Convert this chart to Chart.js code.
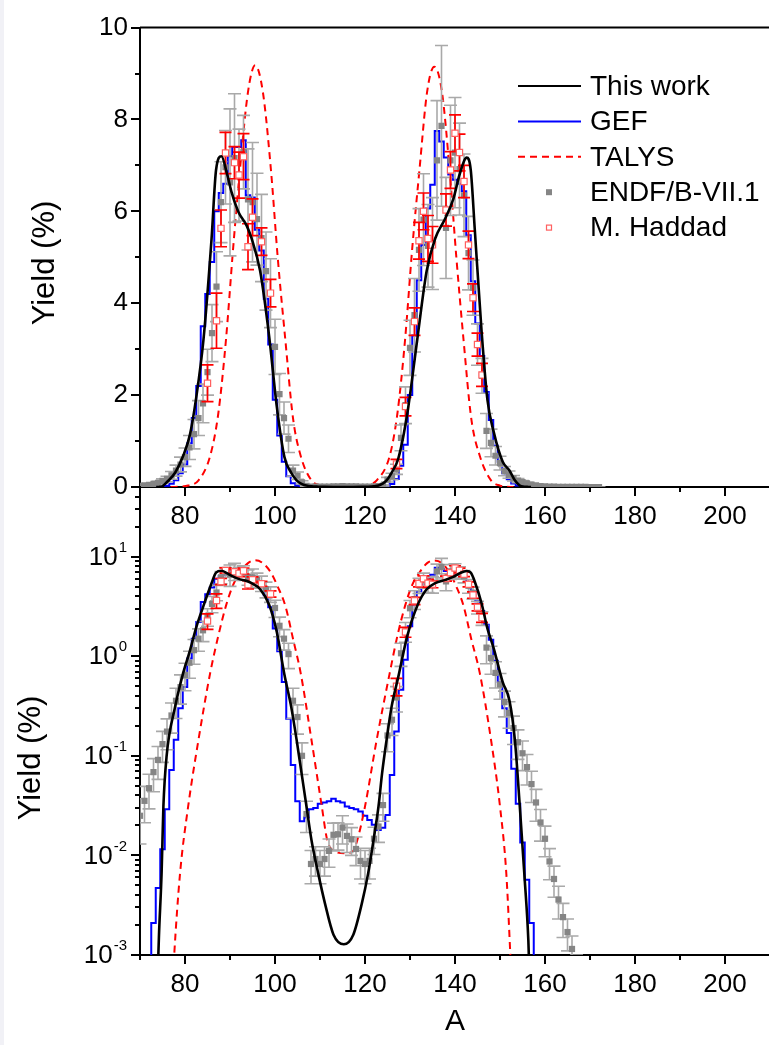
<!DOCTYPE html>
<html><head><meta charset="utf-8">
<script src="https://cdn.jsdelivr.net/npm/chart.js@4.4.1/dist/chart.umd.min.js"></script>
<style>
html,body{margin:0;padding:0;background:#fff;overflow:hidden;width:769px;height:1045px;}
canvas{position:absolute;left:0;top:0;}
#edge{position:absolute;left:0;top:0;width:4px;height:1045px;background:#f1f1f6;}
</style></head><body>
<div id="edge"></div>
<canvas id="cTop" width="784" height="1045"></canvas>
<canvas id="cBot" width="784" height="1045"></canvas>
<script>
// ---------------- data ----------------
const xTickLabels = [80, 100, 120, 140, 160, 180, 200];
const xMinorTicks = [70, 90, 110, 130, 150, 170, 190, 210];
const yLinLabels = [0, 2, 4, 6, 8, 10];
const yLogExponents = [-3, -2, -1, 0, 1];
const yTitle = 'Yield (%)';
const xTitle = 'A';

// This work (smooth curve)
const twA = [73.6, 74.2, 74.8, 75.2, 75.9, 77.8, 79.6, 81.1, 82.5, 84.1, 85.9, 86.9, 88.1, 89.3, 90.4, 91.9, 93.7, 94.8, 96.7, 98.7, 100.4, 102.1, 103.6, 104.8, 105.9, 107.0, 108.1, 109.6, 111.1, 113.0, 115.3, 117.4, 119.3, 120.7, 121.9, 123.0, 123.8, 124.8, 125.9, 127.4, 129.4, 131.6, 133.7, 135.6, 137.8, 139.6, 141.1, 142.6, 143.5, 144.4, 145.9, 147.2, 148.6, 150.6, 152.1, 153.3, 154.4, 155.4, 156.3, 156.9];
const twY = [0.0002, 0.0015, 0.0067, 0.031, 0.098, 0.31, 0.68, 1.14, 1.95, 3.2, 5.4, 6.9, 7.2, 6.83, 6.40, 5.98, 5.69, 5.41, 4.70, 3.28, 1.75, 0.65, 0.31, 0.145, 0.067, 0.031, 0.0143, 0.0066, 0.0033, 0.0016, 0.00128, 0.0016, 0.0033, 0.0066, 0.0143, 0.031, 0.067, 0.145, 0.31, 0.62, 1.6, 3.2, 4.7, 5.41, 5.84, 6.26, 6.83, 7.17, 6.9, 5.6, 3.4, 1.9, 1.2, 0.55, 0.36, 0.145, 0.031, 0.0066, 0.0014, 0.0002];

// GEF (histogram, bin centres)
const gefA = [72, 73, 74, 75, 76, 77, 78, 79, 80, 81, 82, 83, 84, 85, 86, 87, 88, 89, 90, 91, 92, 93, 94, 95, 96, 97, 98, 99, 100, 101, 102, 103, 104, 105, 106, 107, 108, 109, 110, 111, 112, 113, 114, 115, 116, 117, 118, 119, 120, 121, 122, 123, 124, 125, 126, 127, 128, 129, 130, 131, 132, 133, 134, 135, 136, 137, 138, 139, 140, 141, 142, 143, 144, 145, 146, 147, 148, 149, 150, 151, 152, 153, 154, 155, 156, 157, 158];
const gefY = [0.00001, 0.0021, 0.0047, 0.0115, 0.029, 0.072, 0.145, 0.30, 0.49, 0.95, 1.5, 2.2, 3.5, 4.2, 4.9, 6.0, 6.4, 6.6, 7.2, 7.4, 7.4, 7.55, 6.35, 6.3, 5.6, 5.15, 4.1, 3.1, 1.9, 1.12, 0.55, 0.235, 0.081, 0.035, 0.022, 0.024, 0.029, 0.030, 0.033, 0.034, 0.035, 0.037, 0.035, 0.034, 0.031, 0.030, 0.029, 0.0276, 0.025, 0.0227, 0.0203, 0.018, 0.019, 0.0255, 0.064, 0.175, 0.46, 0.92, 2.0, 3.3, 4.5, 5.27, 6.06, 6.58, 7.75, 7.52, 7.17, 6.8, 6.69, 6.6, 6.44, 5.48, 4.48, 3.56, 2.85, 2.07, 1.46, 0.9, 0.55, 0.30, 0.169, 0.074, 0.033, 0.0135, 0.0057, 0.0021, 0.00001];

// TALYS
const talA = [76.8, 77.6, 78.9, 80.7, 83.0, 85.6, 87.4, 89.1, 90.7, 92.2, 94.0, 95.6, 97.3, 99.1, 100.6, 102.3, 104.0, 105.7, 108.1, 110.4, 111.6, 113.2, 115.5, 117.3, 118.3, 120.0, 122.6, 125.5, 127.2, 128.9, 130.5, 132.1, 133.8, 135.4, 137.1, 138.8, 140.3, 141.9, 143.6, 145.5, 148.0, 150.0, 151.4, 152.3, 153.0];
const talY = [0.0002, 0.001, 0.0066, 0.031, 0.145, 0.68, 1.6, 3.2, 5.2, 6.9, 8.6, 9.18, 8.6, 6.9, 5.0, 3.2, 1.5, 0.68, 0.145, 0.031, 0.0143, 0.011, 0.0105, 0.011, 0.0143, 0.031, 0.145, 0.68, 1.6, 3.2, 5.2, 6.9, 8.6, 9.15, 8.6, 6.9, 5.0, 3.2, 1.5, 0.68, 0.145, 0.031, 0.0066, 0.001, 0.0002];

// ENDF/B-VII.1
const endfA = [70, 71, 72, 73, 74, 75, 76, 77, 78, 79, 80, 81, 82, 83, 84, 85, 86, 87, 88, 89, 90, 91, 92, 93, 94, 95, 96, 97, 98, 99, 100, 101, 102, 103, 104, 105, 106, 107, 108, 109, 110, 111, 112, 113, 114, 115, 116, 117, 118, 119, 120, 121, 122, 123, 124, 125, 126, 127, 128, 129, 130, 131, 132, 133, 134, 135, 136, 137, 138, 139, 140, 141, 142, 143, 144, 145, 146, 147, 148, 149, 150, 151, 152, 153, 154, 155, 156, 157, 158, 159, 160, 161, 162, 163, 164, 165, 166, 167, 168, 169, 170, 171, 172];
const endfY = [0.025, 0.0353, 0.0473, 0.0686, 0.091, 0.131, 0.175, 0.254, 0.357, 0.49, 0.65, 0.86, 1.15, 1.5, 1.82, 2.5, 3.35, 4.36, 6.2, 6.96, 6.63, 7.16, 6.79, 7.29, 6.26, 6.2, 5.83, 5.42, 4.7, 4.22, 3.05, 2.02, 1.5, 1.05, 0.357, 0.245, 0.1, 0.026, 0.0082, 0.0092, 0.0082, 0.0092, 0.0111, 0.0161, 0.0163, 0.019, 0.0157, 0.0145, 0.0116, 0.0088, 0.0082, 0.0088, 0.0147, 0.0195, 0.032, 0.16, 0.23, 0.385, 1.07, 1.78, 3.03, 3.74, 5.16, 5.82, 5.25, 5.3, 7.11, 7.86, 5.64, 7.11, 7.28, 6.92, 6.35, 5.09, 4.34, 3.1, 2.42, 1.22, 0.96, 0.68, 0.52, 0.346, 0.269, 0.19, 0.137, 0.106, 0.077, 0.052, 0.034, 0.0214, 0.0147, 0.0087, 0.0058, 0.0036, 0.0024, 0.0017, 0.00115, 0.0007, 0.0005, 0.0003, 0.0002, 0.0001, 0.00007];
const endfErr = [0.012, 0.014, 0.018, 0.025, 0.033, 0.045, 0.06, 0.085, 0.12, 0.16, 0.2, 0.26, 0.32, 0.38, 0.42, 0.5, 0.62, 0.76, 0.88, 0.8, 1.6, 1.4, 1.0, 0.8, 1.1, 1.3, 1.0, 0.95, 0.85, 0.75, 0.6, 0.45, 0.35, 0.3, 0.12, 0.08, 0.035, 0.009, 0.003, 0.003, 0.003, 0.003, 0.0035, 0.005, 0.005, 0.006, 0.005, 0.0045, 0.0037, 0.003, 0.003, 0.003, 0.0045, 0.006, 0.01, 0.05, 0.07, 0.11, 0.28, 0.4, 0.6, 0.8, 0.9, 1.0, 0.9, 1.0, 1.3, 1.75, 1.1, 1.2, 1.2, 1.0, 0.9, 0.8, 0.6, 0.45, 0.38, 0.38, 0.3, 0.2, 0.15, 0.1, 0.08, 0.06, 0.045, 0.035, 0.026, 0.018, 0.012, 0.0075, 0.005, 0.003, 0.002, 0.0013, 0.0009, 0.0006, 0.0004, 0.0003, 0.0002, 0.0001, 0.00007, 0.00004, 0.00003];

// M. Haddad
const hdA = [85, 87, 88, 89, 91, 92, 93, 94, 95, 97, 99, 127, 129, 131, 132, 133, 134, 135, 138, 139, 140, 141, 142, 143, 144, 145, 146];
const hdY = [2.26, 3.62, 5.63, 7.27, 7.06, 6.79, 7.19, 5.23, 5.87, 5.34, 4.22, 0.5, 1.75, 3.6, 5.36, 6.0, 5.41, 5.27, 6.03, 6.9, 7.7, 7.28, 6.65, 5.27, 4.12, 3.1, 2.44];
const hdErr = [0.4, 0.6, 0.4, 0.45, 0.35, 0.5, 0.5, 0.5, 0.4, 0.3, 0.3, 0.1, 0.2, 0.3, 0.4, 0.4, 0.5, 0.4, 0.35, 0.4, 0.4, 0.4, 0.35, 0.3, 0.3, 0.25, 0.25];

// ---------------- drawing ----------------
const FONT = '"Liberation Sans", Arial, Helvetica, sans-serif';
Chart.defaults.font.family = FONT;
Chart.defaults.color = '#000';

const pts = (xs, ys) => xs.map((x, i) => ({x, y: ys[i]}));

function datasets() {
  return [
    {label: 'This work', data: pts(twA, twY), showLine: true, borderColor: '#000', borderWidth: 2.6,
     pointRadius: 0, cubicInterpolationMode: 'monotone'},
    {label: 'M. Haddad', data: pts(hdA, hdY), showLine: false, pointStyle: 'rect', pointRadius: 4.4,
     borderColor: '#ff6060', backgroundColor: '#ffffff', borderWidth: 1.2,
     errors: hdErr, errColor: '#ff0000', errWidth: 1.7, capHalf: 6},
    {label: 'ENDF/B-VII.1', data: pts(endfA, endfY), showLine: false, pointStyle: 'rect', pointRadius: 4.4,
     borderColor: '#858585', backgroundColor: '#858585', borderWidth: 0,
     errors: endfErr, errColor: '#a9a9a9', errWidth: 1.6, capHalf: 6.5},
    {label: 'TALYS', data: pts(talA, talY), showLine: true, borderColor: '#ff0000', borderWidth: 2,
     borderDash: [7, 5], pointRadius: 0, cubicInterpolationMode: 'monotone'},
    {label: 'GEF', data: pts(gefA, gefY), showLine: true, stepped: 'middle', borderColor: '#0000ff',
     borderWidth: 2, pointRadius: 0}
  ];
}

const errorBars = {
  id: 'errorBars',
  beforeDatasetDraw(chart, args) {
    const ds = chart.data.datasets[args.index];
    if (!ds.errors) return;
    const {ctx, chartArea: a, scales: {x, y}} = chart;
    const isLog = y.type === 'logarithmic';
    ctx.save();
    ctx.beginPath(); ctx.rect(a.left, a.top, a.right - a.left, a.bottom - a.top); ctx.clip();
    ctx.strokeStyle = ds.errColor; ctx.lineWidth = ds.errWidth;
    ctx.beginPath();
    ds.data.forEach((p, i) => {
      const e = ds.errors[i];
      const px = x.getPixelForValue(p.x);
      const top = y.getPixelForValue(p.y + e);
      const lowV = p.y - e;
      const bot = (isLog && lowV <= 0) ? a.bottom + 20 : y.getPixelForValue(lowV);
      ctx.moveTo(px, top); ctx.lineTo(px, bot);
      ctx.moveTo(px - ds.capHalf, top); ctx.lineTo(px + ds.capHalf, top);
      ctx.moveTo(px - ds.capHalf, bot); ctx.lineTo(px + ds.capHalf, bot);
    });
    ctx.stroke();
    ctx.restore();
  }
};

function drawYTitle(ctx, cx, cy) {
  ctx.save();
  ctx.translate(cx, cy); ctx.rotate(-Math.PI / 2);
  ctx.font = '31px ' + FONT; ctx.textAlign = 'center'; ctx.textBaseline = 'middle';
  ctx.fillStyle = '#000';
  ctx.fillText(yTitle, 0, 0);
  ctx.restore();
}

const axesDeco = {
  id: 'axesDeco',
  afterDraw(chart) {
    const {ctx, chartArea: a, scales: {x, y}} = chart;
    const isLog = y.type === 'logarithmic';
    ctx.save();
    ctx.strokeStyle = '#000'; ctx.lineWidth = 2;
    ctx.beginPath();
    xTickLabels.forEach(v => { const p = Math.round(x.getPixelForValue(v)); ctx.moveTo(p, a.bottom); ctx.lineTo(p, a.bottom + 9); });
    xMinorTicks.forEach(v => { const p = Math.round(x.getPixelForValue(v)); ctx.moveTo(p, a.bottom); ctx.lineTo(p, a.bottom + 5); });
    if (isLog) {
      yLogExponents.forEach(ex => {
        const d = Math.pow(10, ex);
        const p = Math.round(y.getPixelForValue(d));
        ctx.moveTo(a.left, p); ctx.lineTo(a.left - 9, p);
        for (let m = 2; m <= 9; m++) {
          const v = m * d;
          if (v > y.max + 1e-9) break;
          const q = Math.round(y.getPixelForValue(v));
          ctx.moveTo(a.left, q); ctx.lineTo(a.left - 5, q);
        }
      });
    } else {
      for (let v = y.min; v <= y.max; v += 1) {
        const p = Math.round(y.getPixelForValue(v));
        const L = yLinLabels.includes(v) ? 9 : 5;
        ctx.moveTo(a.left, p); ctx.lineTo(a.left - L, p);
      }
      ctx.moveTo(a.left, a.top); ctx.lineTo(a.right + 2, a.top);
    }
    ctx.stroke();

    ctx.fillStyle = '#000';
    if (isLog) {
      yLogExponents.forEach(ex => {
        const p = y.getPixelForValue(Math.pow(10, ex));
        ctx.textBaseline = 'middle'; ctx.textAlign = 'right';
        ctx.font = '15px ' + FONT;
        const es = String(ex);
        const ew = ctx.measureText(es).width;
        ctx.fillText(es, 127, p - 9);
        ctx.font = '26px ' + FONT;
        ctx.fillText('10', 127 - ew - 1, p + 1);
      });
      drawYTitle(ctx, 31, 758);
    } else {
      drawYTitle(ctx, 45, 263);
      const items = chart.data.datasets;
      const byLabel = l => items.find(d => d.label === l);
      const rows = ['This work', 'GEF', 'TALYS', 'ENDF/B-VII.1', 'M. Haddad'];
      ctx.font = '28px ' + FONT; ctx.textAlign = 'left'; ctx.textBaseline = 'middle';
      rows.forEach((lab, i) => {
        const ds = byLabel(lab);
        const cy = 86 + i * 35.4;
        if (ds.showLine) {
          ctx.save();
          ctx.strokeStyle = ds.borderColor; ctx.lineWidth = 2;
          ctx.setLineDash(ds.borderDash || []);
          ctx.beginPath(); ctx.moveTo(518, cy); ctx.lineTo(581, cy); ctx.stroke();
          ctx.restore();
        } else {
          ctx.save();
          if (lab === 'M. Haddad') {
            ctx.strokeStyle = ds.borderColor; ctx.lineWidth = 1.2; ctx.fillStyle = '#fff';
            ctx.fillRect(546.5, cy - 2.5, 5, 5); ctx.strokeRect(546.5, cy - 2.5, 5, 5);
          } else {
            ctx.fillStyle = ds.backgroundColor; ctx.fillRect(546, cy - 3, 6, 6);
          }
          ctx.restore();
        }
        ctx.fillStyle = '#000';
        ctx.fillText(lab, 590, cy + 1);
      });
    }
    ctx.restore();
  }
};

function xScale(height, withTitle) {
  return {
    type: 'linear', min: 70, max: 210, position: 'bottom',
    grid: {display: false, drawTicks: false},
    border: {display: true, color: '#000', width: 2},
    ticks: {stepSize: 10, autoSkip: false, maxRotation: 0, padding: 14, font: {size: 26},
            callback: v => xTickLabels.includes(v) ? String(v) : ''},
    title: withTitle ? {display: true, text: xTitle, font: {size: 30}, padding: {top: 0, bottom: 5}} : {display: false},
    afterFit: s => { s.height = height; }
  };
}

const common = {
  responsive: false, animation: false, devicePixelRatio: 1,
  plugins: {legend: {display: false}, tooltip: {enabled: false}},
  elements: {line: {tension: 0.4}}
};

new Chart(document.getElementById('cTop'), {
  type: 'scatter',
  data: {datasets: datasets()},
  options: Object.assign({}, common, {
    layout: {padding: {top: 18, right: 5, left: 0, bottom: 0}},
    scales: {
      x: xScale(558, false),
      y: {type: 'linear', min: 0, max: 10,
          grid: {display: false, drawTicks: false},
          border: {display: true, color: '#000', width: 2},
          ticks: {stepSize: 2, padding: 12, font: {size: 26}},
          afterFit: s => { s.width = 140; }}
    }
  }),
  plugins: [errorBars, axesDeco]
});

new Chart(document.getElementById('cBot'), {
  type: 'scatter',
  data: {datasets: datasets()},
  options: Object.assign({}, common, {
    layout: {padding: {top: 487, right: 5, left: 0, bottom: 0}},
    scales: {
      x: xScale(90, true),
      y: {type: 'logarithmic', min: 0.001, max: 50,
          grid: {display: false, drawTicks: false},
          border: {display: true, color: '#000', width: 2},
          ticks: {display: false},
          afterFit: s => { s.width = 140; }}
    }
  }),
  plugins: [errorBars, axesDeco]
});
</script></body></html>
